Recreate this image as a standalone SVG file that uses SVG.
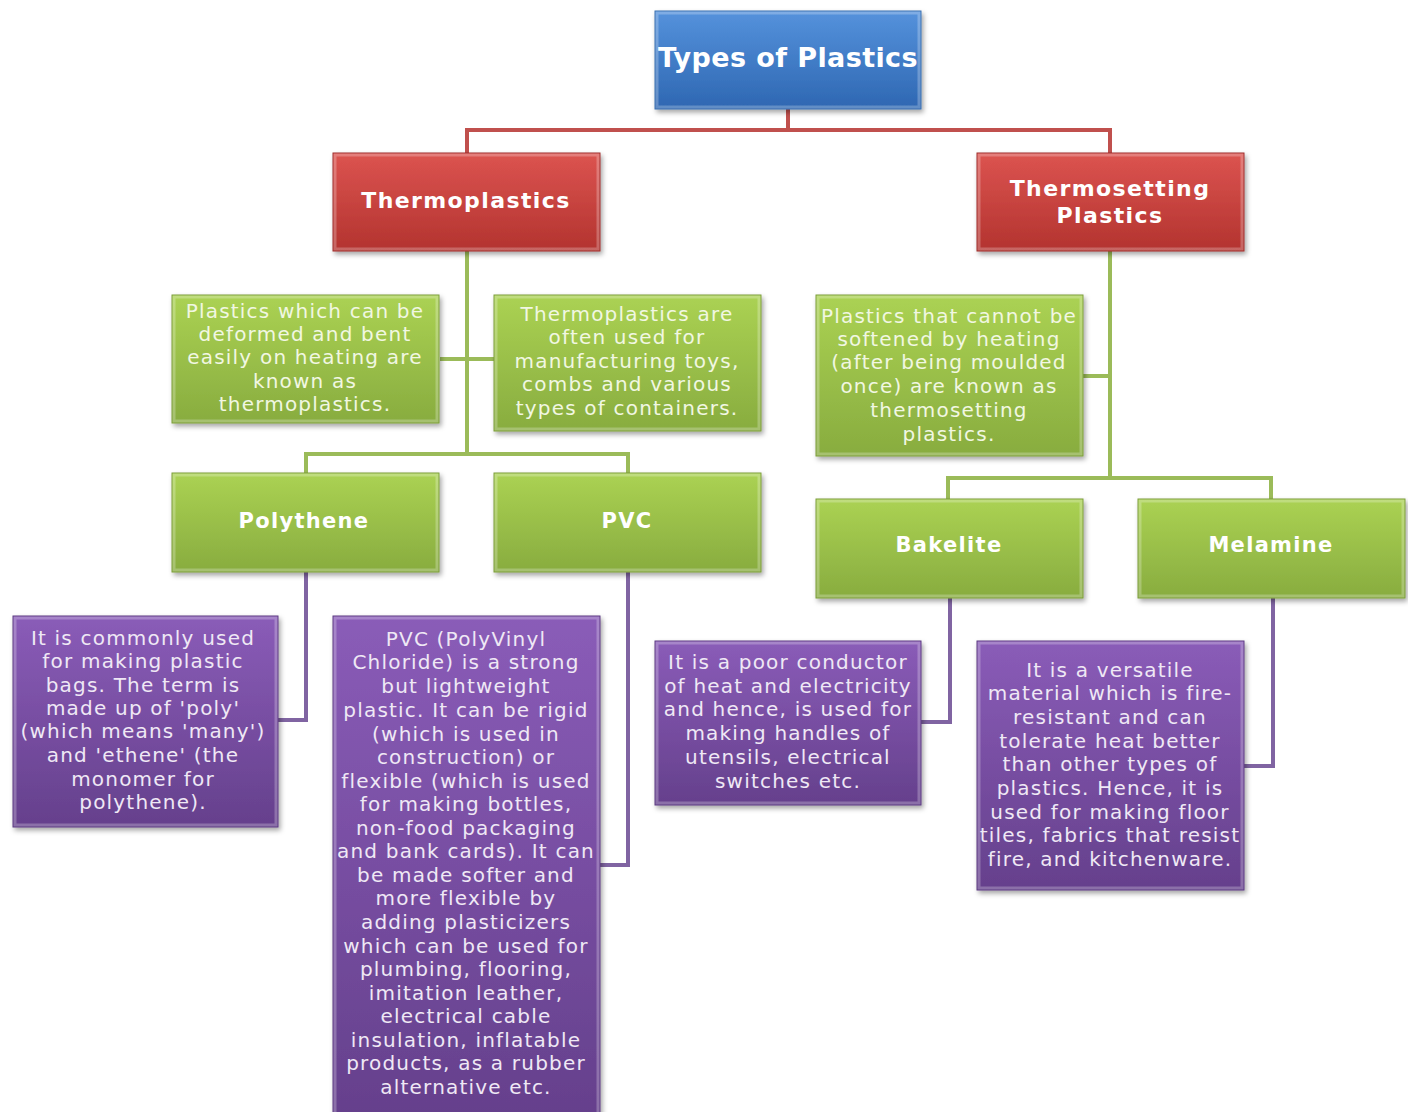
<svg xmlns="http://www.w3.org/2000/svg" width="1408" height="1112" viewBox="0 0 1408 1112">
<defs>
<linearGradient id="gBlue" x1="0" y1="0" x2="0" y2="1"><stop offset="0" stop-color="#5592dc"/><stop offset="1" stop-color="#2e67b2"/></linearGradient>
<linearGradient id="gRed" x1="0" y1="0" x2="0" y2="1"><stop offset="0" stop-color="#dc5450"/><stop offset="1" stop-color="#b3332f"/></linearGradient>
<linearGradient id="gGreen" x1="0" y1="0" x2="0" y2="1"><stop offset="0" stop-color="#abd253"/><stop offset="1" stop-color="#88ac3f"/></linearGradient>
<linearGradient id="gPurple" x1="0" y1="0" x2="0" y2="1"><stop offset="0" stop-color="#8a5cb8"/><stop offset="1" stop-color="#65408c"/></linearGradient>
<filter id="sh" x="-10%" y="-10%" width="125%" height="130%"><feDropShadow dx="2" dy="3" stdDeviation="2.5" flood-color="#000" flood-opacity="0.35"/></filter>
</defs>
<style>
.box{filter:url(#sh);stroke-width:1}
.blue{fill:url(#gBlue);stroke:#3a6fae}
.red{fill:url(#gRed);stroke:#9d2d2a}
.green{fill:url(#gGreen);stroke:#7a9c38}
.purple{fill:url(#gPurple);stroke:#5a3880}
.bev{fill:none;stroke:#ffffff;stroke-opacity:0.25;stroke-width:3}
.h{font-family:"DejaVu Sans",Verdana,sans-serif;font-weight:bold;fill:#ffffff;text-anchor:middle}
.t{font-family:"DejaVu Sans",Verdana,sans-serif;font-size:20px;letter-spacing:1.2px;text-anchor:middle}
.tg{fill:#f1f7e2}
.tp{fill:#efe8f5}
.cr{fill:none;stroke:#c0504d;stroke-width:4}
.cg{fill:none;stroke:#9bbb59;stroke-width:4}
.cp{fill:none;stroke:#8064a2;stroke-width:4}
</style>
<g id="connectors">
<path class="cr" d="M788 109 V130 M467 153 V130 H1110 V153"/>
<path class="cg" d="M467 251 V452 M440 359 H494 M306 473 V454 H628 V473"/>
<path class="cg" d="M1110 251 V476 M1083 376 H1110 M948 499 V478 H1271 V499"/>
<path class="cp" d="M306 572 V720 H278"/>
<path class="cp" d="M628 572 V865 H600"/>
<path class="cp" d="M950 598 V722 H921"/>
<path class="cp" d="M1273 598 V766 H1244"/>
</g>
<g id="types">
<rect class="box blue" x="655" y="11" width="266" height="98"/>
<rect class="bev" x="657" y="13" width="262" height="94"/>
<text class="h" x="788" y="67" font-size="27" letter-spacing="0.4">Types of Plastics</text>
</g>
<g id="thermoplastics">
<rect class="box red" x="333" y="153" width="267" height="98"/>
<rect class="bev" x="335" y="155" width="263" height="94"/>
<text class="h" x="466" y="208" font-size="22" letter-spacing="1.4">Thermoplastics</text>
</g>
<g id="thermosetting">
<rect class="box red" x="977" y="153" width="267" height="98"/>
<rect class="bev" x="979" y="155" width="263" height="94"/>
<text class="h" x="1110" y="196" font-size="22" letter-spacing="1.4">Thermosetting</text>
<text class="h" x="1110" y="223" font-size="22" letter-spacing="1.4">Plastics</text>
</g>
<g id="tp-def">
<rect class="box green" x="172" y="295" width="267" height="128"/>
<rect class="bev" x="174" y="297" width="263" height="124"/>
<text class="t tg" x="305" y="318">Plastics which can be</text>
<text class="t tg" x="305" y="341">deformed  and bent</text>
<text class="t tg" x="305" y="364">easily on heating are</text>
<text class="t tg" x="305" y="388">known  as</text>
<text class="t tg" x="305" y="411">thermoplastics.</text>
</g>
<g id="tp-use">
<rect class="box green" x="494" y="295" width="267" height="136"/>
<rect class="bev" x="496" y="297" width="263" height="132"/>
<text class="t tg" x="627" y="321">Thermoplastics  are</text>
<text class="t tg" x="627" y="344">often used for</text>
<text class="t tg" x="627" y="368">manufacturing toys,</text>
<text class="t tg" x="627" y="391">combs and various</text>
<text class="t tg" x="627" y="415">types of containers.</text>
</g>
<g id="ts-def">
<rect class="box green" x="816" y="295" width="267" height="161"/>
<rect class="bev" x="818" y="297" width="263" height="157"/>
<text class="t tg" x="949" y="323">Plastics that cannot be</text>
<text class="t tg" x="949" y="346">softened  by heating</text>
<text class="t tg" x="949" y="369">(after being moulded</text>
<text class="t tg" x="949" y="393">once) are known as</text>
<text class="t tg" x="949" y="417">thermosetting</text>
<text class="t tg" x="949" y="441">plastics.</text>
</g>
<g id="polythene">
<rect class="box green" x="172" y="473" width="267" height="99"/>
<rect class="bev" x="174" y="475" width="263" height="95"/>
<text class="h" x="304" y="528" font-size="21" letter-spacing="1.3">Polythene</text>
</g>
<g id="pvc">
<rect class="box green" x="494" y="473" width="267" height="99"/>
<rect class="bev" x="496" y="475" width="263" height="95"/>
<text class="h" x="627" y="528" font-size="21" letter-spacing="1.3">PVC</text>
</g>
<g id="bakelite">
<rect class="box green" x="816" y="499" width="267" height="99"/>
<rect class="bev" x="818" y="501" width="263" height="95"/>
<text class="h" x="949" y="552" font-size="21" letter-spacing="1.3">Bakelite</text>
</g>
<g id="melamine">
<rect class="box green" x="1138" y="499" width="267" height="99"/>
<rect class="bev" x="1140" y="501" width="263" height="95"/>
<text class="h" x="1271" y="552" font-size="21" letter-spacing="1.3">Melamine</text>
</g>
<g id="polythene-desc">
<rect class="box purple" x="13" y="616" width="265" height="211"/>
<rect class="bev" x="15" y="618" width="261" height="207"/>
<text class="t tp" x="143" y="645">It is commonly used</text>
<text class="t tp" x="143" y="668">for making plastic</text>
<text class="t tp" x="143" y="692">bags. The term is</text>
<text class="t tp" x="143" y="715">made up of 'poly'</text>
<text class="t tp" x="143" y="738">(which means 'many')</text>
<text class="t tp" x="143" y="762">and 'ethene' (the</text>
<text class="t tp" x="143" y="786">monomer for</text>
<text class="t tp" x="143" y="809">polythene).</text>
</g>
<g id="pvc-desc">
<rect class="box purple" x="333" y="616" width="267" height="500"/>
<rect class="bev" x="335" y="618" width="263" height="496"/>
<text class="t tp" x="466" y="646">PVC (PolyVinyl</text>
<text class="t tp" x="466" y="669">Chloride) is a strong</text>
<text class="t tp" x="466" y="693">but lightweight</text>
<text class="t tp" x="466" y="717">plastic. It can be rigid</text>
<text class="t tp" x="466" y="741">(which is used in</text>
<text class="t tp" x="466" y="764">construction) or</text>
<text class="t tp" x="466" y="788">flexible (which is used</text>
<text class="t tp" x="466" y="811">for making bottles,</text>
<text class="t tp" x="466" y="835">non-food  packaging</text>
<text class="t tp" x="466" y="858">and bank cards). It can</text>
<text class="t tp" x="466" y="882">be made softer and</text>
<text class="t tp" x="466" y="905">more flexible by</text>
<text class="t tp" x="466" y="929">adding plasticizers</text>
<text class="t tp" x="466" y="953">which can be used for</text>
<text class="t tp" x="466" y="976">plumbing, flooring,</text>
<text class="t tp" x="466" y="1000">imitation leather,</text>
<text class="t tp" x="466" y="1023">electrical cable</text>
<text class="t tp" x="466" y="1047">insulation,  inflatable</text>
<text class="t tp" x="466" y="1070">products, as a rubber</text>
<text class="t tp" x="466" y="1094">alternative etc.</text>
</g>
<g id="bakelite-desc">
<rect class="box purple" x="655" y="641" width="266" height="164"/>
<rect class="bev" x="657" y="643" width="262" height="160"/>
<text class="t tp" x="788" y="669">It is a poor conductor</text>
<text class="t tp" x="788" y="693">of heat and electricity</text>
<text class="t tp" x="788" y="716">and hence, is used for</text>
<text class="t tp" x="788" y="740">making handles of</text>
<text class="t tp" x="788" y="764">utensils, electrical</text>
<text class="t tp" x="788" y="788">switches etc.</text>
</g>
<g id="melamine-desc">
<rect class="box purple" x="977" y="641" width="267" height="249"/>
<rect class="bev" x="979" y="643" width="263" height="245"/>
<text class="t tp" x="1110" y="677">It is a versatile</text>
<text class="t tp" x="1110" y="700">material which is fire-</text>
<text class="t tp" x="1110" y="724">resistant and can</text>
<text class="t tp" x="1110" y="748">tolerate heat better</text>
<text class="t tp" x="1110" y="771">than other types of</text>
<text class="t tp" x="1110" y="795">plastics. Hence, it is</text>
<text class="t tp" x="1110" y="819">used for making floor</text>
<text class="t tp" x="1110" y="842">tiles, fabrics that resist</text>
<text class="t tp" x="1110" y="866">fire, and kitchenware.</text>
</g>
</svg>
